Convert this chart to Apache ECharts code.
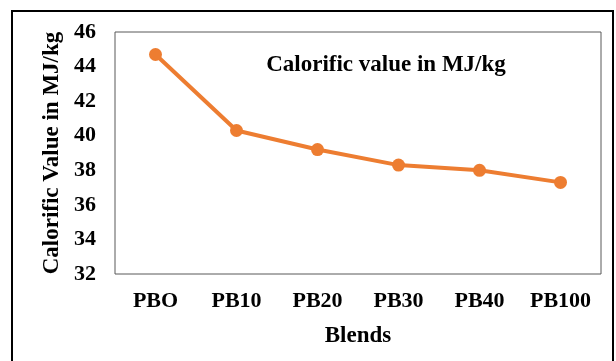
<!DOCTYPE html>
<html>
<head>
<meta charset="utf-8">
<script src="https://cdn.jsdelivr.net/npm/echarts@6/dist/echarts.min.js"></script>
<style>
  html, body { margin: 0; padding: 0; background: #fff; }
  #chart { width: 616px; height: 361px; }
</style>
</head>
<body>
<div id="chart"></div>
<script>
// Calorific value of each blend (MJ/kg)
const blends = ['PBO', 'PB10', 'PB20', 'PB30', 'PB40', 'PB100'];
const calorificValues = [44.7, 40.3, 39.2, 38.3, 38.0, 37.3];
const yTicks = { min: 32, max: 46, step: 2 };

const serif = '"Liberation Serif", "Times New Roman", serif';
const labelStyle = { fontFamily: serif, fontWeight: 'bold', fontSize: 22, color: '#000' };
const nameStyle = { fontFamily: serif, fontWeight: 'bold', fontSize: 23, color: '#000' };
const chart = echarts.init(document.getElementById('chart'));

chart.setOption({
  animation: false,
  backgroundColor: '#ffffff',
  grid: {
    left: 115, top: 32, right: 15, bottom: 87,
    show: true, borderColor: '#595959', borderWidth: 1
  },
  graphic: [
    {
      type: 'rect',
      shape: { x: 12, y: 11, width: 601, height: 360 },
      style: { fill: 'none', stroke: '#000', lineWidth: 2 },
      silent: true
    },
    {
      type: 'text',
      x: 386, y: 65,
      style: {
        text: 'Calorific value in MJ/kg',
        font: 'bold 23px ' + serif,
        fill: '#000',
        textAlign: 'center',
        textVerticalAlign: 'middle'
      }
    }
  ],
  xAxis: {
    type: 'category',
    data: blends,
    boundaryGap: true,
    name: 'Blends',
    nameLocation: 'middle',
    nameGap: 51,
    nameTextStyle: nameStyle,
    axisLine: { show: false },
    axisTick: { show: false },
    axisLabel: Object.assign({ margin: 16 }, labelStyle)
  },
  yAxis: {
    type: 'value',
    min: yTicks.min, max: yTicks.max, interval: yTicks.step,
    name: 'Calorific Value in MJ/kg',
    nameLocation: 'middle',
    nameGap: 51,
    nameTextStyle: nameStyle,
    axisLine: { show: false },
    axisTick: { show: false },
    splitLine: { show: false },
    axisLabel: Object.assign({ margin: 19 }, labelStyle)
  },
  series: [{
    type: 'line',
    data: calorificValues,
    symbol: 'circle',
    symbolSize: 13,
    lineStyle: { color: '#ED7D31', width: 4 },
    itemStyle: { color: '#ED7D31' }
  }]
});
</script>
</body>
</html>
